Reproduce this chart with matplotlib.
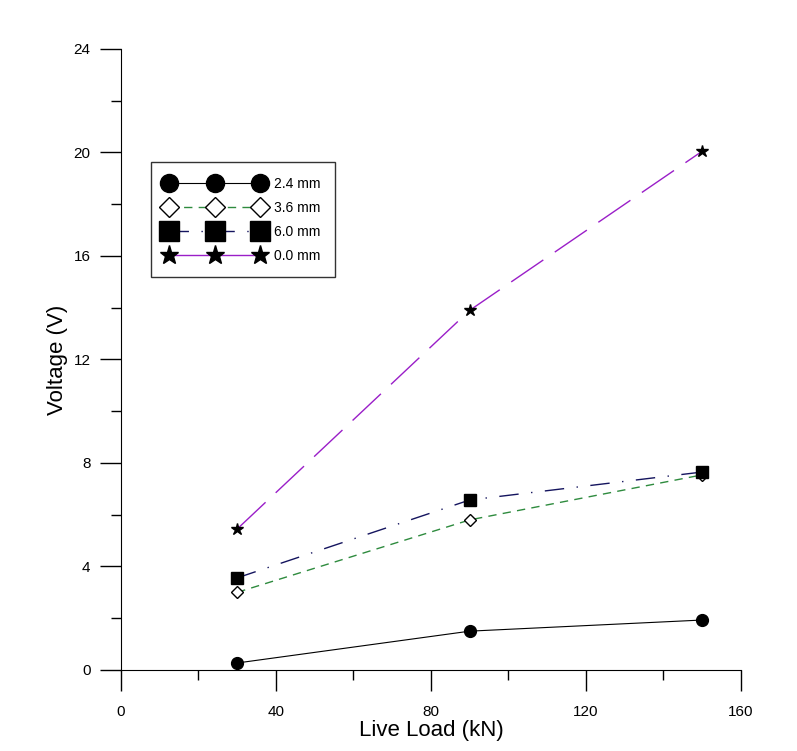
import matplotlib
matplotlib.use('Agg')
import matplotlib.pyplot as plt
from matplotlib.lines import Line2D
from matplotlib.ticker import MultipleLocator

plt.rcParams['font.family'] = ['Liberation Sans', 'DejaVu Sans']

# data
load = [30, 90, 150]
v_24 = [0.27, 1.5, 1.93]
v_36 = [3.0, 5.8, 7.54]
v_60 = [3.56, 6.57, 7.65]
v_00 = [5.45, 13.9, 20.05]
labels = ['2.4 mm', '3.6 mm', '6.0 mm', '0.0 mm']

fig = plt.figure(figsize=(7.97, 7.51), dpi=100)
ax = fig.add_axes([0.1518, 0.1079, 0.7779, 0.8269])

ax.plot(load, v_24, color='black', lw=0.8, marker='o', ms=8.5,
        mfc='black', mec='black')
ax.plot(load, v_36, color='#2e8b3e', lw=1.0, ls=(0, (6, 4.5)), marker='D',
        ms=6, mfc='white', mec='black', mew=1.0)
ax.plot(load, v_60, color='#14145e', lw=1.0, ls=(0, (14, 9, 1, 9)),
        marker='s', ms=9, mfc='black', mec='black')
ax.plot(load, v_00, color='#9a1ec8', lw=1.0, ls=(0, (28, 10)), marker='*',
        ms=9, mfc='black', mec='black')

ax.set_xlim(0, 160)
ax.set_ylim(0, 24)
ax.xaxis.set_major_locator(MultipleLocator(40))
ax.xaxis.set_minor_locator(MultipleLocator(20))
ax.yaxis.set_major_locator(MultipleLocator(4))
ax.yaxis.set_minor_locator(MultipleLocator(2))
ax.tick_params(which='major', direction='out', length=15, width=1, labelsize=11)
ax.tick_params(which='minor', direction='out', length=7.5, width=1)
ax.tick_params(axis='x', which='major', pad=10)
ax.tick_params(axis='y', which='major', pad=7)
ax.spines['top'].set_visible(False)
ax.spines['right'].set_visible(False)
ax.set_xlabel('Live Load (kN)', fontsize=16, labelpad=1)
ax.set_ylabel('Voltage (V)', fontsize=16, labelpad=4)

# legend with bigger markers, as in the original
handles = [
    Line2D([], [], color='black', lw=0.8, marker='o', ms=13, mfc='black', mec='black'),
    Line2D([], [], color='#2e8b3e', lw=1.0, ls=(0, (6, 4.5)), marker='D', ms=10,
           mfc='white', mec='black'),
    Line2D([], [], color='#14145e', lw=1.0, ls=(0, (14, 9, 1, 9)), marker='s', ms=14,
           mfc='black', mec='black'),
    Line2D([], [], color='#9a1ec8', lw=1.0, marker='*', ms=14, mfc='black', mec='black'),
]
leg = ax.legend(handles, labels, loc='upper left', bbox_to_anchor=(0.048, 0.818),
                numpoints=3, handlelength=7.1, handletextpad=0.75, labelspacing=0.72,
                fontsize=10, frameon=True, fancybox=False, borderpad=1.05,
                borderaxespad=0)
leg.get_frame().set_edgecolor('black')
leg.get_frame().set_linewidth(1.0)

fig.savefig('out.png', dpi=100)
